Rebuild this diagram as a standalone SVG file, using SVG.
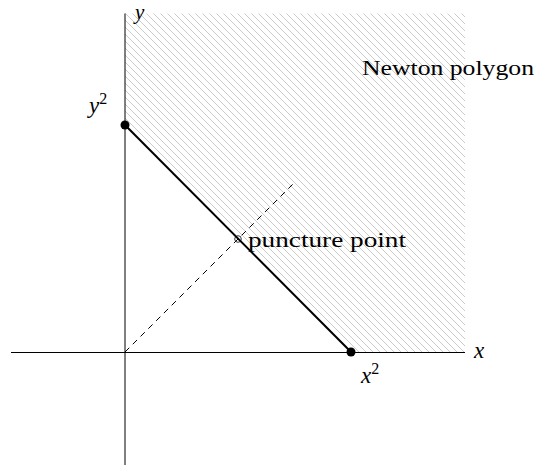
<svg xmlns="http://www.w3.org/2000/svg" width="535" height="467" viewBox="0 0 535 467">
<defs>
<pattern id="hatch" patternUnits="userSpaceOnUse" width="7" height="7">
<line x1="-1" y1="-1" x2="8" y2="8" stroke="#a8a8a8" stroke-width="0.6"/>
<line x1="-1" y1="6" x2="1" y2="8" stroke="#a8a8a8" stroke-width="0.6"/>
<line x1="6" y1="-1" x2="8" y2="1" stroke="#a8a8a8" stroke-width="0.6"/>
</pattern>
</defs>
<style>
.lbl{font-family:"Liberation Serif","DejaVu Serif",serif;font-size:22px;fill:#000}
.math{font-family:"Liberation Serif","DejaVu Serif",serif;font-style:italic;font-size:23px;fill:#000}
.sup{font-style:normal;font-size:16px}
.axis{stroke:#000;stroke-width:1;fill:none}
.edge{stroke:#000;stroke-width:2;fill:none}
.dot{fill:#000}
</style>
<g id="newton-polygon">
<polygon points="125,13.5 465,13.5 465,352 351,352 125,125" fill="url(#hatch)"/>
<text class="lbl" x="362" y="75" textLength="172" lengthAdjust="spacingAndGlyphs">Newton polygon</text>
</g>
<g id="connectors">
<line class="axis" x1="11" y1="352.5" x2="465" y2="352.5"/>
<line class="axis" x1="125" y1="13.5" x2="125" y2="465"/>
<line class="edge" x1="125" y1="125" x2="351" y2="352"/>
<line class="axis" x1="125" y1="352" x2="295" y2="182" stroke-dasharray="6,5"/>
</g>
<g id="y-axis-label"><text class="math" x="135" y="19" style="font-size:21px">y</text></g>
<g id="x-axis-label"><text class="math" x="474" y="358">x</text></g>
<g id="y2"><circle class="dot" cx="125" cy="125" r="4.5"/><text class="math" x="89" y="113">y<tspan class="sup" dy="-9">2</tspan></text></g>
<g id="x2"><circle class="dot" cx="351" cy="352" r="4.5"/><text class="math" x="361" y="383">x<tspan class="sup" dy="-9">2</tspan></text></g>
<g id="puncture-point"><circle cx="238" cy="239" r="3.3" fill="none" stroke="#000" stroke-width="0.8"/><text class="lbl" x="248" y="247" textLength="158" lengthAdjust="spacingAndGlyphs">puncture point</text></g>
</svg>
